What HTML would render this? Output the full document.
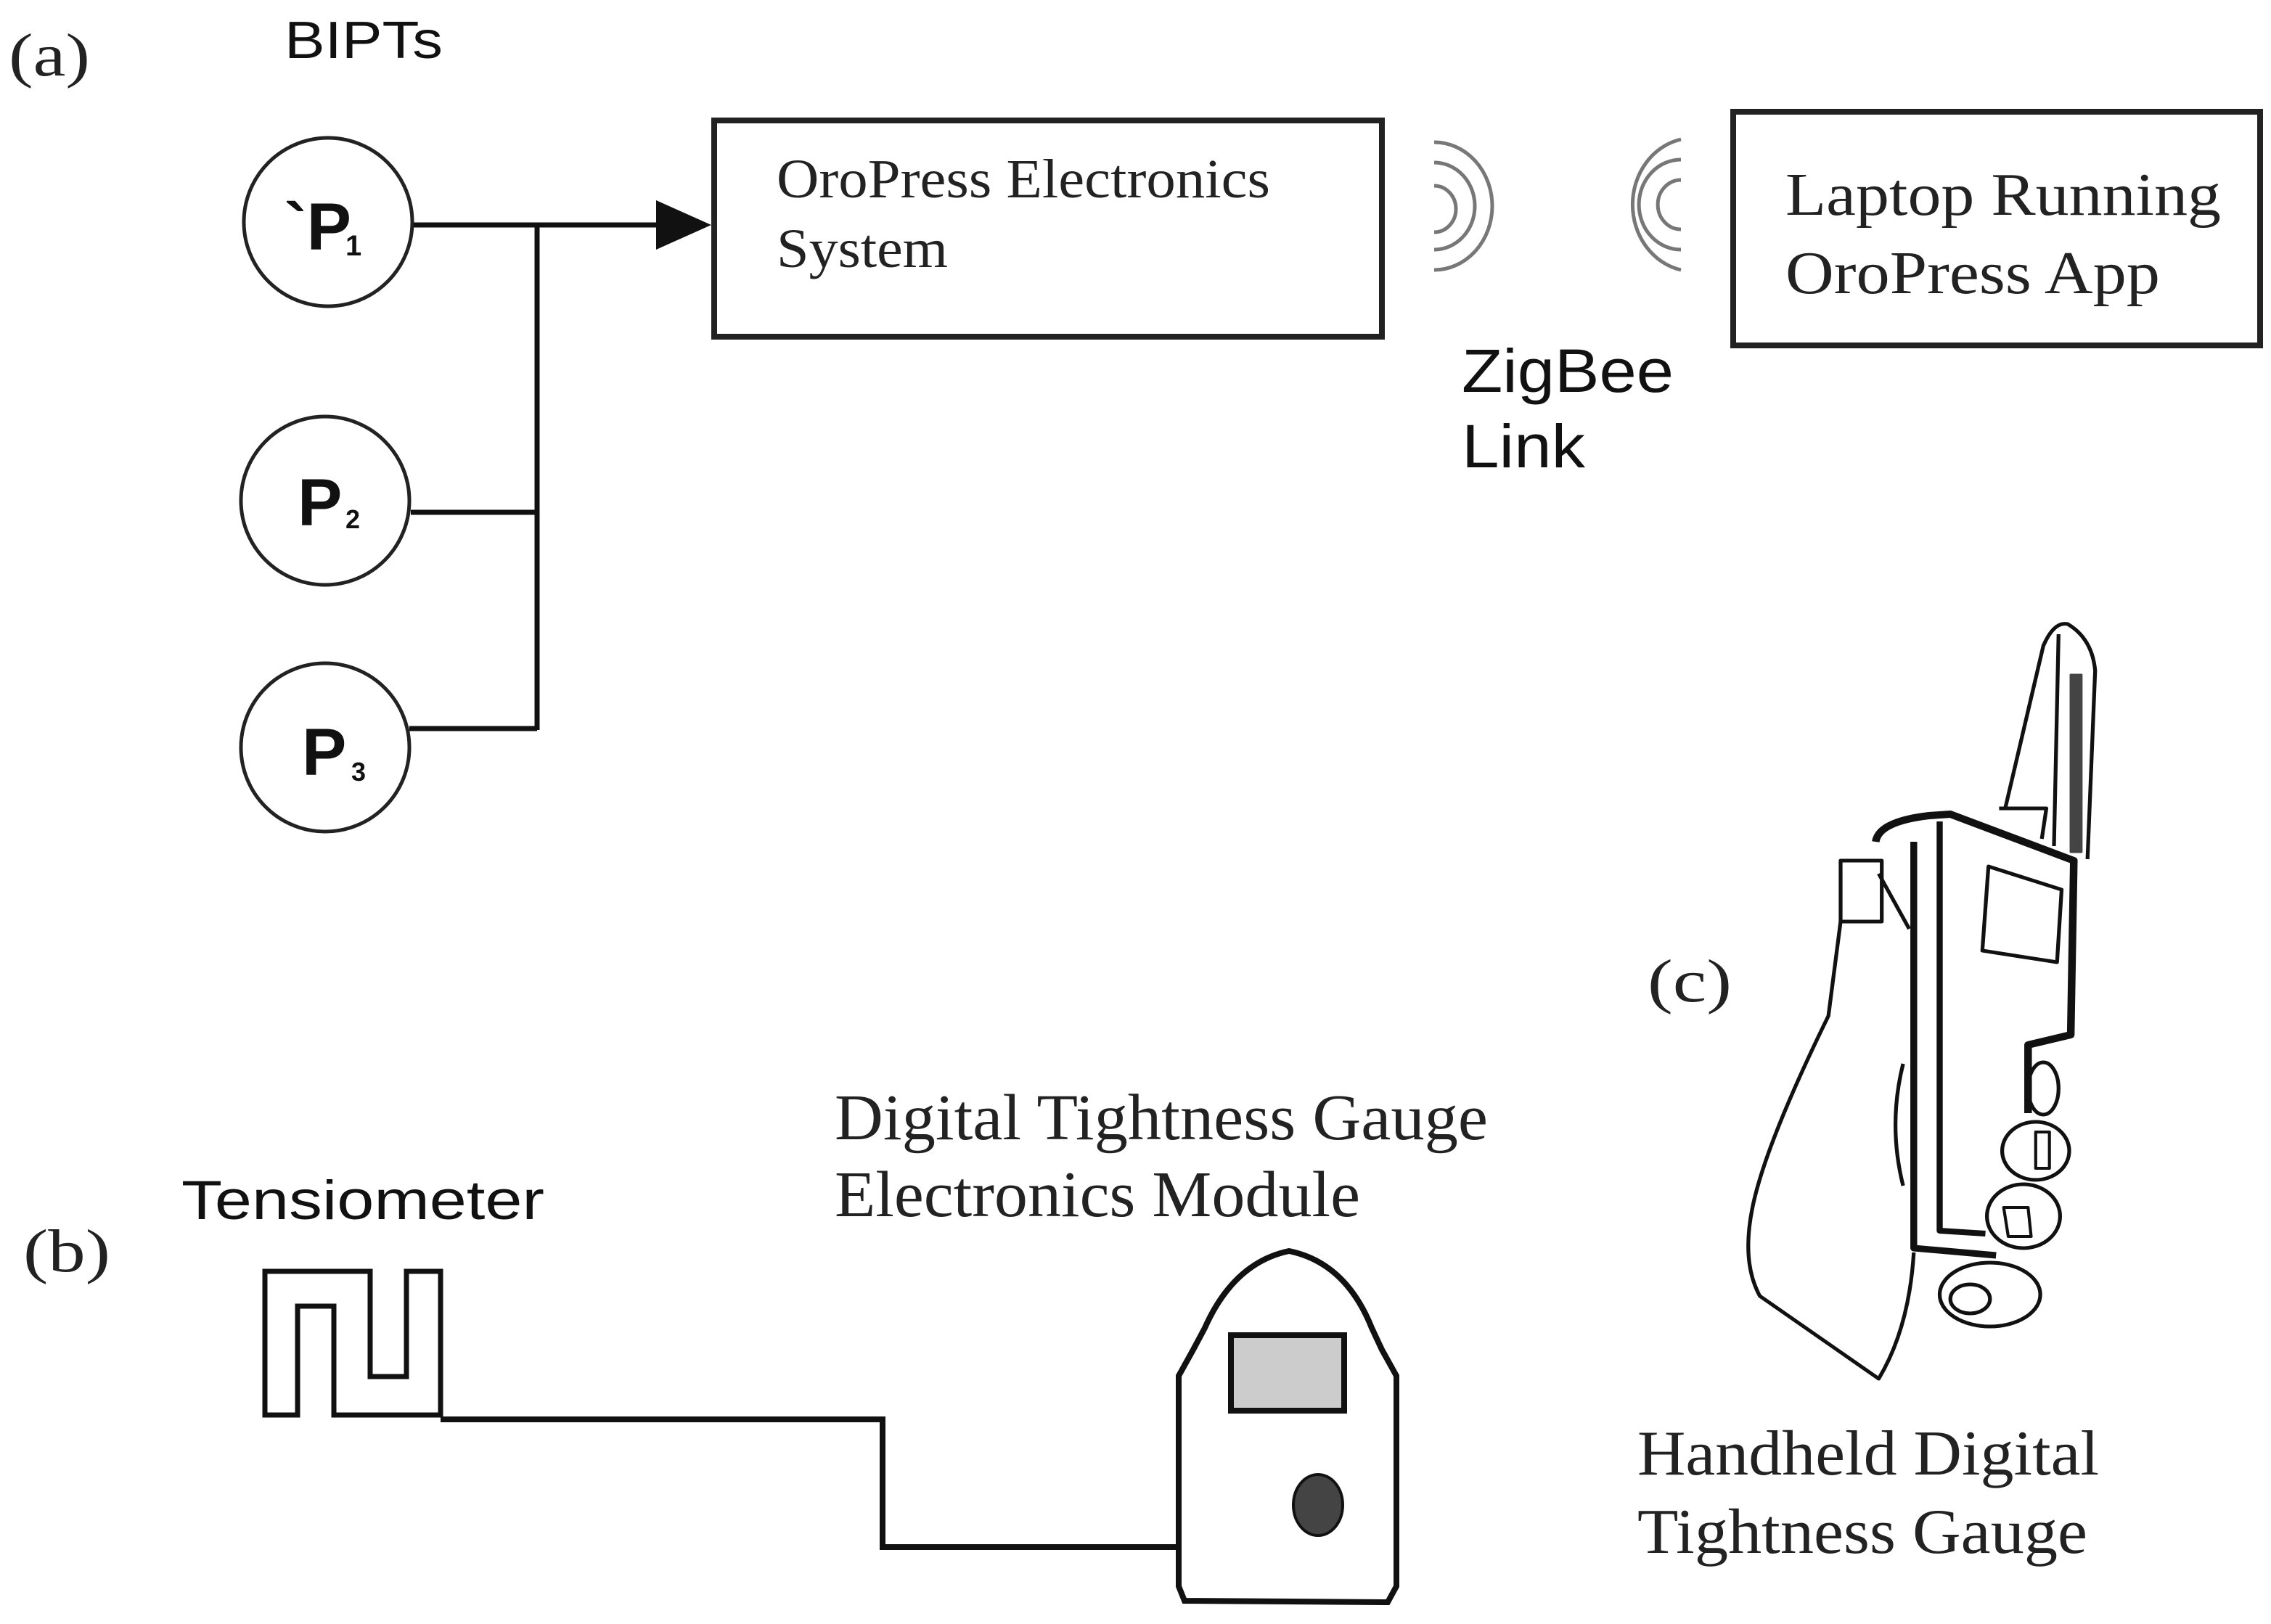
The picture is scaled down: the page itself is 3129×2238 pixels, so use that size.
<!DOCTYPE html>
<html><head><meta charset="utf-8"><style>
html,body{margin:0;padding:0;background:#fff;}
svg{display:block;}
.serif{font-family:"Liberation Serif",serif;fill:#222;}
.sans{font-family:"Liberation Sans",sans-serif;fill:#111;}
</style></head><body>
<svg width="3129" height="2238" viewBox="0 0 1564.5 1119" xmlns="http://www.w3.org/2000/svg">
<rect width="1564.5" height="1119" fill="#fff"/>
<text x="6" y="52" class="serif" font-size="42" textLength="56" lengthAdjust="spacingAndGlyphs">(a)</text>
<text x="196" y="40" class="sans" font-size="36" textLength="109" lengthAdjust="spacingAndGlyphs">BIPTs</text>
<g fill="none" stroke="#222" stroke-width="2.5">
<circle cx="226" cy="153" r="58"/>
<circle cx="224" cy="345" r="58"/>
<circle cx="224" cy="515" r="58"/>
</g>
<text x="196" y="172" font-size="46" class="sans" font-weight="bold">`P</text>
<text x="238" y="176" font-size="20" class="sans" font-weight="bold">1</text>
<text x="205" y="362" font-size="46" class="sans" font-weight="bold">P</text>
<text x="238" y="364" font-size="18" class="sans" font-weight="bold">2</text>
<text x="208" y="534" font-size="46" class="sans" font-weight="bold">P</text>
<text x="242" y="538" font-size="18" class="sans" font-weight="bold">3</text>
<g stroke="#111" stroke-width="3.5" fill="none">
<line x1="285" y1="155" x2="455" y2="155"/>
<line x1="370" y1="155" x2="370" y2="503"/>
<line x1="283" y1="353" x2="370" y2="353"/>
<line x1="282" y1="502" x2="370" y2="502"/>
</g>
<polygon points="452,138 490,155 452,172" fill="#111"/>
<rect x="492" y="83" width="460" height="149" fill="none" stroke="#222" stroke-width="4"/>
<text x="535" y="136" class="serif" font-size="38" textLength="340" lengthAdjust="spacingAndGlyphs">OroPress Electronics</text>
<text x="535" y="184" class="serif" font-size="38" textLength="118" lengthAdjust="spacingAndGlyphs">System</text>
<rect x="1194" y="77" width="363" height="161" fill="none" stroke="#222" stroke-width="4"/>
<text x="1230" y="148" class="serif" font-size="42" textLength="300" lengthAdjust="spacingAndGlyphs">Laptop Running</text>
<text x="1230" y="202" class="serif" font-size="42" textLength="258" lengthAdjust="spacingAndGlyphs">OroPress App</text>
<g fill="none" stroke="#777" stroke-width="2.5">
<path d="M988,128 A15,16 0 0 1 988,160"/>
<path d="M988,112 A28,30 0 0 1 988,172"/>
<path d="M988,98 A40,44 0 0 1 988,186"/>
<path d="M1158,124 A15,16 0 0 0 1158,158"/>
<path d="M1158,110 A28,30 0 0 0 1158,172"/>
<path d="M1158,96 A42,46 0 0 0 1158,186"/>
</g>
<text x="1007" y="270" class="sans" font-size="42" textLength="146" lengthAdjust="spacingAndGlyphs">ZigBee</text>
<text x="1007" y="322" class="sans" font-size="42" textLength="85" lengthAdjust="spacingAndGlyphs">Link</text>
<text x="16" y="876" class="serif" font-size="42" textLength="60" lengthAdjust="spacingAndGlyphs">(b)</text>
<text x="125" y="840" class="sans" font-size="38" textLength="250" lengthAdjust="spacingAndGlyphs">Tensiometer</text>
<path d="M182.5,975 L182.5,876 L255,876 L255,948.5 L280,948.5 L280,876 L303.5,876 L303.5,975 L230,975 L230,900 L205,900 L205,975 Z" fill="none" stroke="#111" stroke-width="3.5"/>
<path d="M303.5,978 L608,978 L608,1066 L810,1066" fill="none" stroke="#111" stroke-width="4"/>
<text x="575" y="785" class="serif" font-size="45" textLength="450" lengthAdjust="spacingAndGlyphs">Digital Tightness Gauge</text>
<text x="575" y="838" class="serif" font-size="45" textLength="362" lengthAdjust="spacingAndGlyphs">Electronics Module</text>
<path d="M816,1103 L812,1093 L812,948 L822,930 L830,915 Q850,870 888,862 Q927,870 945,915 L952,930 L962,948 L962,1093 L956,1104 Z" fill="#fff" stroke="#111" stroke-width="4"/>
<rect x="848" y="920" width="78" height="52" fill="#ccc" stroke="#111" stroke-width="4"/>
<ellipse cx="908" cy="1037" rx="17" ry="21" fill="#444" stroke="#111" stroke-width="2"/>
<text x="1135" y="690" class="serif" font-size="42" textLength="58" lengthAdjust="spacingAndGlyphs">(c)</text>
<text x="1128" y="1016" class="serif" font-size="44" textLength="318" lengthAdjust="spacingAndGlyphs">Handheld Digital</text>
<text x="1128" y="1070" class="serif" font-size="44" textLength="310" lengthAdjust="spacingAndGlyphs">Tightness Gauge</text>
<g fill="none" stroke="#111" stroke-width="2.5" stroke-linejoin="round" transform="translate(1205,0) scale(1.05,1) translate(-1205,0)">
<path d="M1373,557 L1398,445 Q1405,428 1414,430 Q1430,440 1432,462 L1427,592"/>
<path d="M1408,437 L1405,583"/>
<rect x="1416" y="465" width="7" height="122" fill="#444" stroke="#444" stroke-width="1.5"/>
<path d="M1369,557 L1400,557 L1397,578"/>
<path d="M1288,580 Q1290,566 1323,562 L1337,561 L1418,593 L1416,713 L1388,720 L1388,767" stroke-width="5"/>
<path d="M1313,580 L1313,860 L1367,865" stroke-width="4.5"/>
<path d="M1330,566 L1330,848 L1360,850" stroke-width="4"/>
<path d="M1362,597 L1410,613 L1407,663 L1358,655 Z"/>
<path d="M1265,593 L1292,593 L1292,635 L1265,635 Z"/>
<path d="M1290,602 L1310,640"/>
<path d="M1265,635 L1257,700 Q1215,790 1207,833 Q1200,870 1212,893 L1290,950 Q1310,915 1313,863"/>
<path d="M1306,733 Q1296,775 1306,817"/>
<ellipse cx="1398" cy="750" rx="10" ry="18"/>
<ellipse cx="1393" cy="793" rx="22" ry="20"/>
<path d="M1393,780 L1402,780 L1402,805 L1393,805 Z" stroke-width="2"/>
<ellipse cx="1385" cy="838" rx="24" ry="22"/>
<path d="M1372,832 L1388,832 L1390,852 L1375,852 Z" stroke-width="2"/>
<ellipse cx="1363" cy="892" rx="33" ry="22"/>
<ellipse cx="1350" cy="895" rx="13" ry="10"/>
</g>
</svg>
</body></html>
